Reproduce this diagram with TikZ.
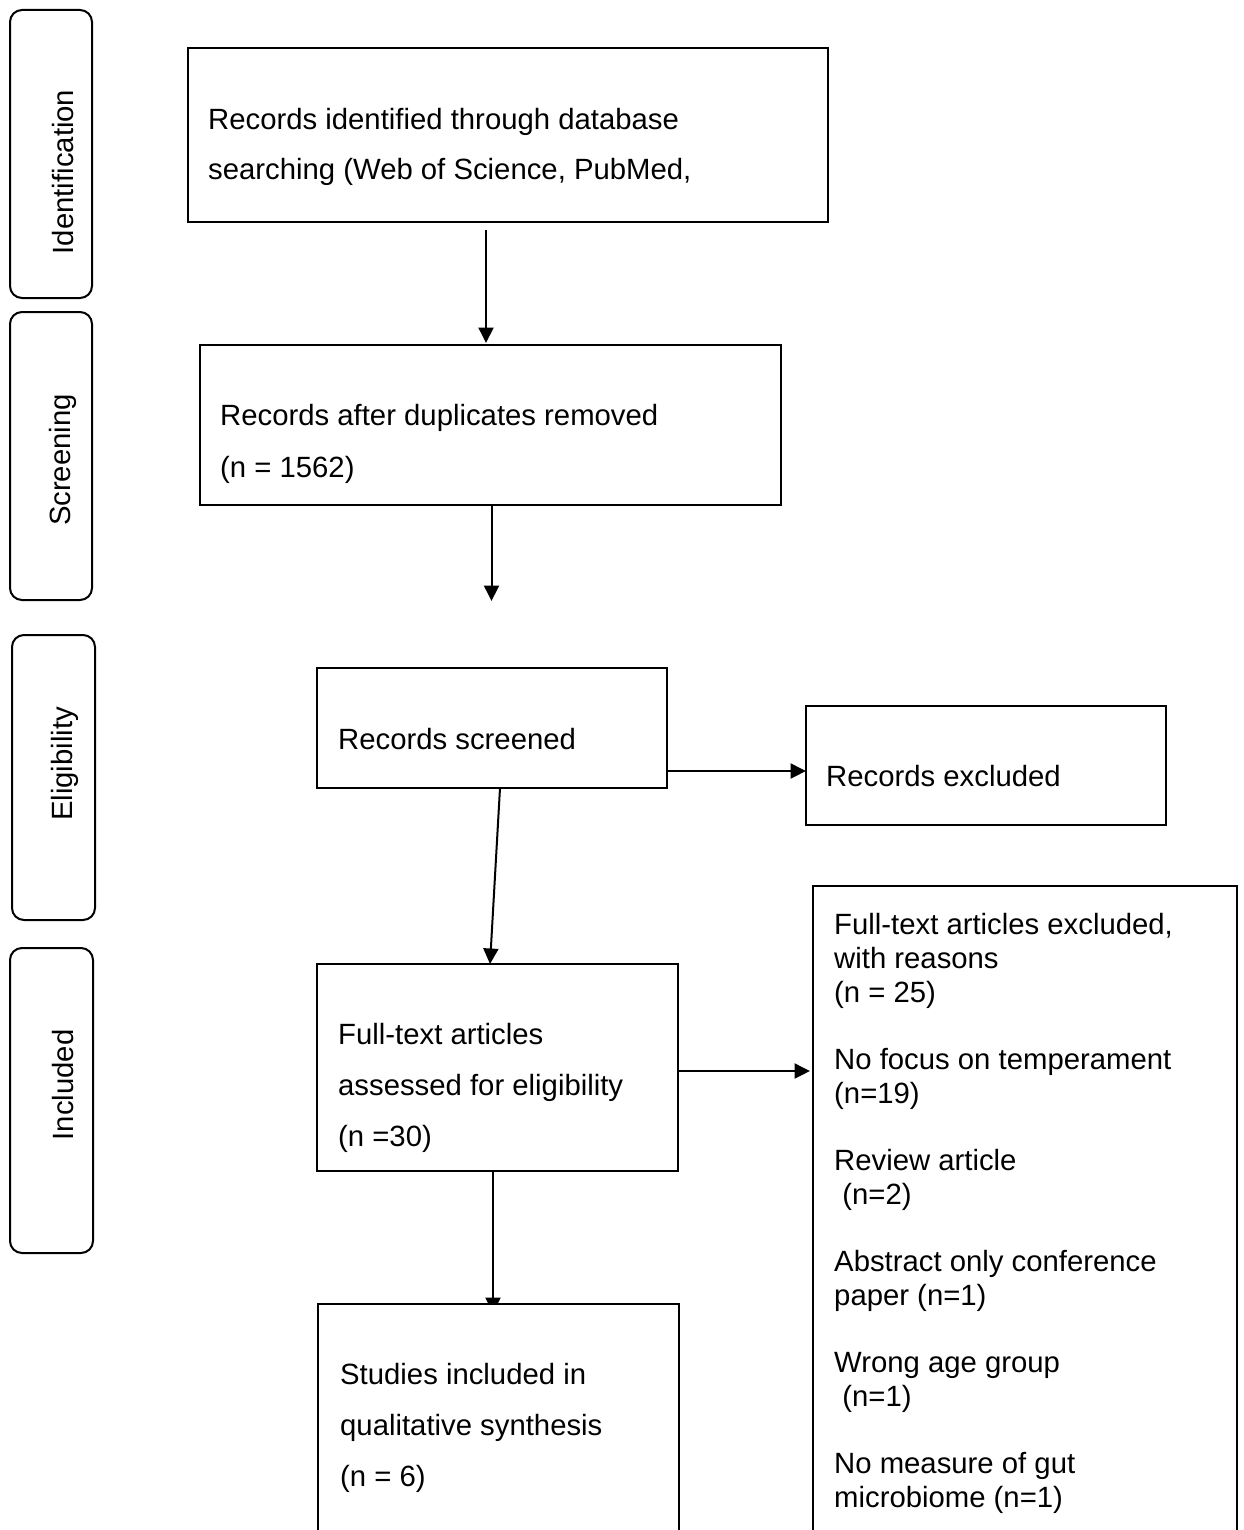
\documentclass[tikz,border=0pt]{standalone}
\usepackage{fontspec}
\setmainfont{Liberation Sans}
\usetikzlibrary{arrows.meta,backgrounds}
\begin{document}
\begin{tikzpicture}[x=1pt,y=-1pt,
  stage/.style={draw,line width=2pt,rounded corners=12pt,minimum width=#1,inner sep=0pt,outer sep=0pt},
  box/.style={draw,line width=2pt,inner sep=0pt,outer sep=0pt,fill=white},
  stagetext/.style={rotate=90,inner sep=0pt,font=\fontsize{29.3}{34}\selectfont},
  lbl/.style={anchor=north west,align=left,inner sep=0pt,font=\fontsize{29.3}{#1}\selectfont},
  lbl/.default=34,
  arr/.style={line width=2pt,-{Triangle[length=15.5pt,width=15pt]}}]
\clip (0,0) rectangle (1243,1530);

% stage labels on the left
\node[stage=82pt,minimum height=288pt] (s1) at (51,154) {};
\node[stage=82pt,minimum height=288pt] (s2) at (51,456) {};
\node[stage=83pt,minimum height=285pt] (s3) at (53.5,777.5) {};
\node[stage=83pt,minimum height=305pt] (s4) at (51.5,1100.5) {};
\node[stagetext] (t1) at (63,172) {Identification};
\node[stagetext] (t2) at (63,460) {Screening};
\node[stagetext] (t3) at (65,764) {Eligibility};
\node[stagetext] (t4) at (63,1085) {Included};

% flow boxes
\node[box,minimum width=640pt,minimum height=174pt] (b1) at (508,135) {};
\node[box,minimum width=581pt,minimum height=160pt] (b2) at (490.5,425) {};
\node[box,minimum width=350pt,minimum height=120pt] (b3) at (492,728) {};
\node[box,minimum width=360pt,minimum height=119pt] (b4) at (986,765.5) {};
\node[box,minimum width=361pt,minimum height=207pt] (b5) at (497.5,1067.5) {};
\node[box,minimum width=424pt,minimum height=714pt] (b6) at (1025,1243) {};
\node[box,minimum width=361pt,minimum height=296pt] (b7) at (498.5,1452) {};

% box texts
\node[lbl=50] (l1) at (208,108) {Records identified through database\\searching (Web of Science, PubMed,};
\node[lbl=52] (l2) at (220,404) {Records after duplicates removed\\(n = 1562)};
\node[lbl] (l3) at (338,728) {Records screened};
\node[lbl] (l4) at (826,765) {Records excluded};
\node[lbl=51] (l5) at (338,1023) {Full-text articles\\assessed for eligibility\\(n =30)};
\node[lbl] (l6) at (834,913) {Full-text articles excluded,\\with reasons\\(n = 25)\\[33pt]
No focus on temperament\\(n=19)\\[33pt]
Review article\\\ (n=2)\\[33pt]
Abstract only conference\\paper (n=1)\\[33pt]
Wrong age group\\\ (n=1)\\[33pt]
No measure of gut\\microbiome (n=1)};
\node[lbl=51] (l7) at (340,1363) {Studies included in\\qualitative synthesis\\(n = 6)};

% connectors
\coordinate (e2) at (491.5,601);
\draw[arr] ([xshift=-22pt,yshift=-8pt]b1.south) -- ([xshift=-4.5pt,yshift=2pt]b2.north);
\draw[arr] ([xshift=1pt]b2.south) -- (e2);
\draw[arr] ([yshift=-43pt]b3.east) -- ([yshift=-5.5pt]b4.west);
\draw[arr] ([xshift=8pt]b3.south) -- ([xshift=-7.5pt]b5.north);
\draw[arr,shorten >=3pt] ([yshift=-3.5pt]b5.east) -- ([yshift=172pt]b6.west);
% this one runs under the white-filled bottom box
\begin{scope}[on background layer]
\draw[arr] ([xshift=-4.5pt,yshift=5pt]b5.south) -- ([xshift=-5.5pt,yshift=-9pt]b7.north);
\end{scope}
\end{tikzpicture}
\end{document}
